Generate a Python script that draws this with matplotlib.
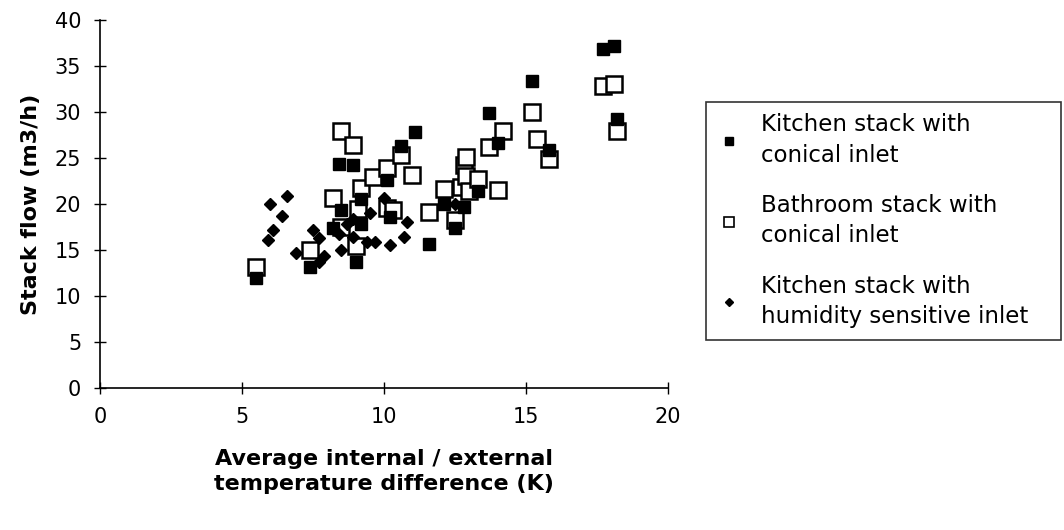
import numpy as np
import matplotlib
matplotlib.use('Agg')
import matplotlib.pyplot as plt
from matplotlib.lines import Line2D

plt.rcParams['font.family'] = ['DejaVu Sans']

# Kitchen stack with conical inlet (filled squares)
kitchen_x = [5.5, 7.4, 8.2, 8.5, 8.4, 8.9, 9.0, 9.2, 9.2, 10.1, 10.2, 10.6, 11.1,
             11.6, 12.1, 12.5, 12.8, 13.3, 13.7, 14.0, 15.2, 15.8, 17.7, 18.1, 18.2]
kitchen_y = [12.0, 13.2, 17.4, 19.4, 24.4, 24.2, 13.7, 17.8, 20.5, 22.6, 18.6, 26.3, 27.8,
             15.7, 20.0, 17.4, 19.7, 21.4, 29.9, 26.6, 33.4, 25.9, 36.8, 37.2, 29.2]

# Bathroom stack with conical inlet (open squares)
bath_x = [5.5, 7.4, 8.2, 8.5, 8.5, 8.9, 9.0, 9.1, 9.2, 9.6, 10.1, 10.1, 10.3, 10.6, 11.0,
          11.6, 12.1, 12.5, 12.7, 12.8, 12.9, 12.9, 13.0, 13.3, 14.0, 13.7, 14.2, 15.2,
          15.4, 15.8, 17.7, 18.1, 18.2]
bath_y = [13.2, 15.0, 20.6, 17.5, 27.9, 26.4, 15.4, 19.5, 21.7, 22.9, 23.9, 19.6, 19.4, 25.3, 23.1,
          19.1, 21.6, 18.3, 21.9, 24.2, 25.1, 23.0, 21.4, 22.7, 21.5, 26.2, 27.9, 30.0,
          27.1, 24.9, 32.8, 33.0, 27.9]

# Kitchen stack with humidity sensitive inlet (diamonds)
humid_x = [5.9, 6.1, 6.0, 6.4, 6.6, 6.9, 7.5, 7.7, 7.7, 7.9, 8.4, 8.5, 8.9, 8.9, 8.7,
           9.4, 9.5, 9.7, 10.0, 10.2, 10.7, 10.8, 12.5]
humid_y = [16.1, 17.2, 20.0, 18.7, 20.9, 14.7, 17.2, 16.3, 13.7, 14.3, 16.7, 15.0, 18.4, 16.4, 17.8,
           15.9, 19.0, 15.9, 20.7, 15.5, 16.4, 18.0, 20.0]

labels = ['Kitchen stack with\nconical inlet',
          'Bathroom stack with\nconical inlet',
          'Kitchen stack with\nhumidity sensitive inlet']

fig = plt.figure(figsize=(10.64, 5.30), dpi=100)
ax = fig.add_axes([100/1064, (530-388)/530, (668-100)/1064, 368/530])

ax.plot(kitchen_x, kitchen_y, 's', ms=9, color='black', mec='black', ls='none', zorder=3)
ax.plot(bath_x, bath_y, 's', ms=11, mfc='white', mec='black', mew=1.8, ls='none', zorder=2)
ax.plot(humid_x, humid_y, 'D', ms=6.5, color='black', ls='none', zorder=4)

ax.set_xlim(0, 20)
ax.set_ylim(0, 40)
ax.set_xticks(np.arange(0, 21, 5))
ax.set_yticks(np.arange(0, 41, 5))
ax.spines['top'].set_visible(False)
ax.spines['right'].set_visible(False)
ax.tick_params(direction='inout', length=9, width=1, labelsize=15, pad=9)
for s in ['left', 'bottom']:
    ax.spines[s].set_linewidth(1.2)

ax.set_xlabel('Average internal / external\ntemperature difference (K)',
              fontsize=16, fontweight='bold', labelpad=16, linespacing=1.3)
ax.set_ylabel('Stack flow (m3/h)', fontsize=16, fontweight='bold', labelpad=10)

handles = [
    Line2D([], [], marker='s', ls='none', color='black', ms=6),
    Line2D([], [], marker='s', ls='none', mfc='white', mec='black', mew=1.2, ms=7),
    Line2D([], [], marker='D', ls='none', color='black', ms=4.5),
]
# legend box runs to the right edge of the picture
leg = fig.legend(handles, labels, loc='upper left', mode='expand',
                 bbox_to_anchor=(706/1064, 0, (1061-706)/1064, 1 - 102/530),
                 bbox_transform=fig.transFigure,
                 fontsize=16.5, frameon=True, fancybox=False, edgecolor='black',
                 borderpad=0.5, labelspacing=1.2, handlelength=1.0, handletextpad=0.9,
                 borderaxespad=0)
leg.get_frame().set_linewidth(1.2)
for t in leg.get_texts():
    t.set_linespacing(1.4)

fig.savefig('out.png', dpi=100)
